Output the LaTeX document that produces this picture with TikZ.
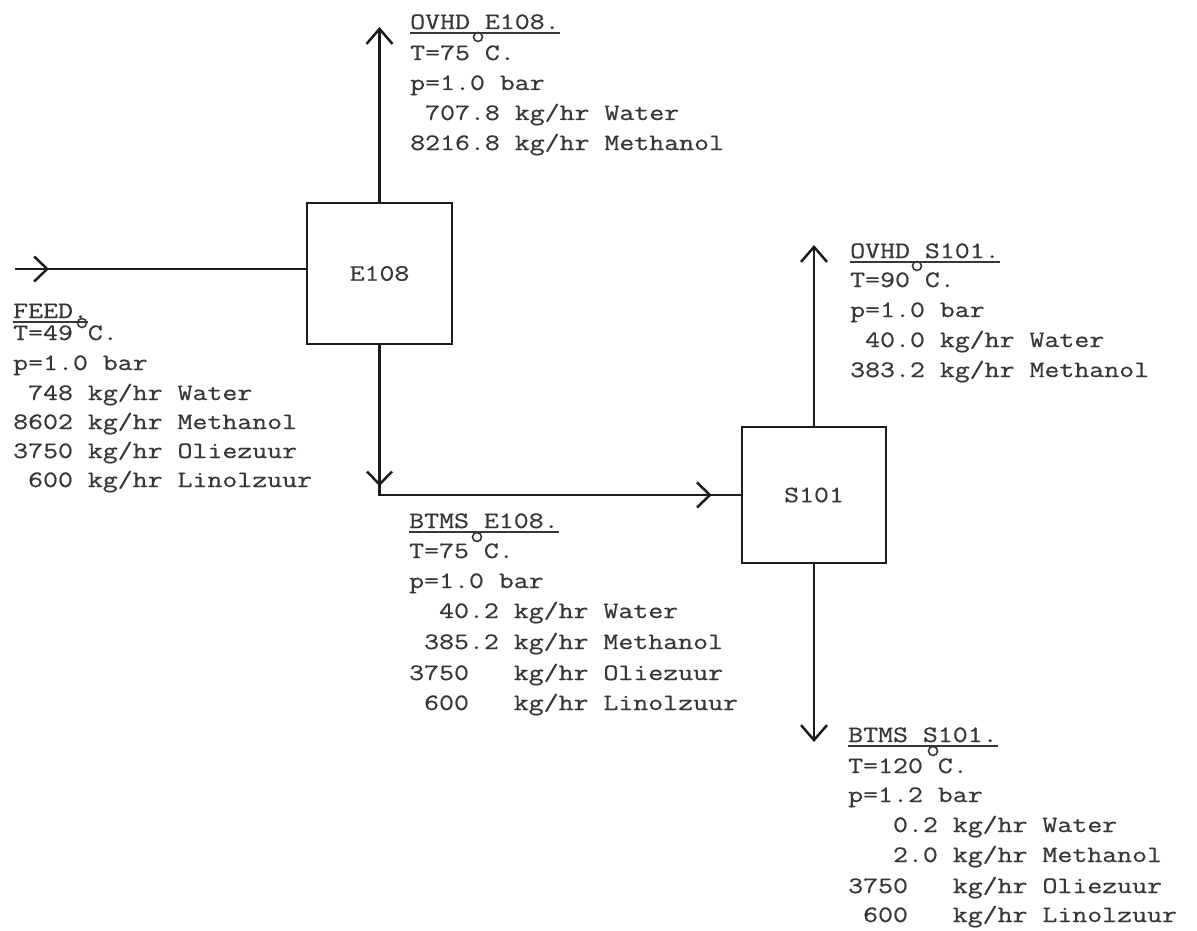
\documentclass[tikz,border=0pt]{standalone}
\usepackage{fontspec}
\setmonofont[FakeStretch=1.235, FakeBold=0.6]{Latin Modern Mono}
\usetikzlibrary{arrows.meta,decorations.markings}
\definecolor{ink}{RGB}{28,28,28}
\definecolor{textink}{RGB}{55,55,55}
\newcommand\ts{\hphantom{0}}
\newcommand\tl[4]{\node[txt] (#1) at (#2,#3) {#4};}
\tikzset{
  tw/.style={font=\ttfamily\fontsize{23.5}{28}\selectfont},
  txt/.style={tw, anchor=base west, inner sep=0pt, text=textink},
  unit/.style={tw, draw=ink, line width=2.6pt, inner sep=0pt, text=textink},
  flow/.style={draw=ink, line width=2.5pt},
  tipend/.style={-{Straight Barb[length=15pt,width=26pt]}},
  midtip/.style={postaction={decorate, decoration={markings,
      mark=at position #1 with {\arrow{Straight Barb[length=13pt,width=25pt]}}}}},
  uline/.style={draw=textink, line width=2.5pt},
  degc/.style={draw=textink, line width=1.6pt},
}
\begin{document}
\begin{tikzpicture}[x=1pt, y=-1pt]
\useasboundingbox (0,0) rectangle (1197,931);

% units
\node[unit, minimum width=145pt, minimum height=141pt] (E108) at (379.5,273.5) {E108};
\node[unit, minimum width=144pt, minimum height=136pt] (S101) at (814,495) {S101};

% stream end points
\coordinate (feedin) at (15,269);
\coordinate (ovhdE) at (379.5,27);
\coordinate (corner) at (E108.south |- S101.west);
\coordinate (ovhdS) at (814,245);
\coordinate (btmsS) at (814,742);

% connectors
\draw[flow, midtip=34pt] (feedin) -- (feedin -| E108.west);
\draw[flow, tipend] (E108.north) -- (ovhdE);
\draw[flow, midtip=141pt, midtip=482pt] (E108.south) -- (corner) -- (S101.west);
\draw[flow, tipend] (S101.north) -- (ovhdS);
\draw[flow, tipend] (S101.south) -- (btmsS);

% OVHD E108
\tl{oe1}{410}{29}{OVHD\ts E108.}
\tl{oe2}{410}{60}{T=75\ts C.}
\tl{oe3}{410}{90}{p=1.0\ts bar}
\tl{oe4}{410}{120}{\ts707.8\ts kg/hr\ts Water}
\tl{oe5}{410}{150}{8216.8\ts kg/hr\ts Methanol}

% FEED
\tl{fd1}{13}{318}{FEED.}
\tl{fd2}{13}{340}{T=49\ts C.}
\tl{fd3}{13}{370}{p=1.0\ts bar}
\tl{fd4}{13}{400}{\ts748\ts kg/hr\ts Water}
\tl{fd5}{13}{429}{8602\ts kg/hr\ts Methanol}
\tl{fd6}{13}{458}{3750\ts kg/hr\ts Oliezuur}
\tl{fd7}{13}{487}{\ts600\ts kg/hr\ts Linolzuur}

% BTMS E108
\tl{be1}{409}{528}{BTMS\ts E108.}
\tl{be2}{409}{558}{T=75\ts C.}
\tl{be3}{409}{588}{p=1.0\ts bar}
\tl{be4}{409}{618}{\ts\ts40.2\ts kg/hr\ts Water}
\tl{be5}{409}{649}{\ts385.2\ts kg/hr\ts Methanol}
\tl{be6}{409}{680}{3750\ts\ts\ts kg/hr\ts Oliezuur}
\tl{be7}{409}{710}{\ts600\ts\ts\ts kg/hr\ts Linolzuur}

% OVHD S101
\tl{os1}{850}{258}{OVHD\ts S101.}
\tl{os2}{850}{287}{T=90\ts C.}
\tl{os3}{850}{317}{p=1.0\ts bar}
\tl{os4}{850}{347}{\ts40.0\ts kg/hr\ts Water}
\tl{os5}{850}{377}{383.2\ts kg/hr\ts Methanol}

% BTMS S101
\tl{bs1}{848}{742}{BTMS\ts S101.}
\tl{bs2}{848}{773}{T=120\ts C.}
\tl{bs3}{848}{802}{p=1.2\ts bar}
\tl{bs4}{848}{832}{\ts\ts\ts0.2\ts kg/hr\ts Water}
\tl{bs5}{848}{862}{\ts\ts\ts2.0\ts kg/hr\ts Methanol}
\tl{bs6}{848}{893}{3750\ts\ts\ts kg/hr\ts Oliezuur}
\tl{bs7}{848}{922}{\ts600\ts\ts\ts kg/hr\ts Linolzuur}

% underlines of the titles
\foreach \n in {oe1,fd1,be1,os1,bs1}
  \draw[uline] ([yshift=-4pt]\n.base west) -- ([yshift=-4pt]\n.base east);

% degree circles
\draw[degc] (478,37) circle (4.5pt);
\draw[degc] (82,323) circle (4.5pt);
\draw[degc] (477,537) circle (4.5pt);
\draw[degc] (917,266) circle (4.5pt);
\draw[degc] (933,751) circle (4.5pt);
\end{tikzpicture}
\end{document}
